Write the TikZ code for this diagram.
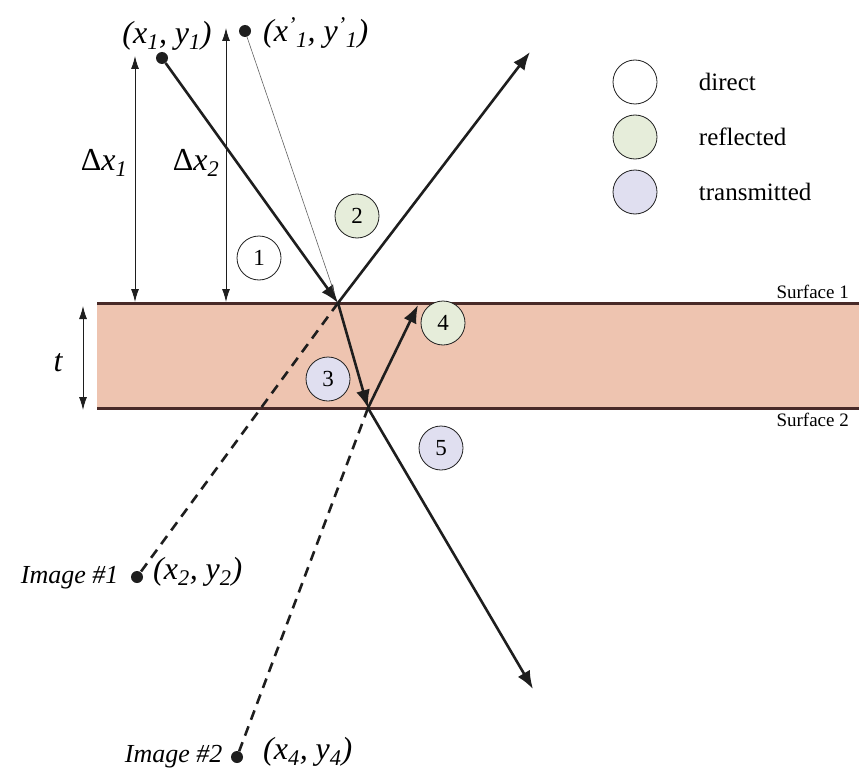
\documentclass[tikz,border=0pt]{standalone}
\usepackage{fontspec}
\setmainfont{Liberation Serif}
\usepackage{xcolor}
\usetikzlibrary{arrows.meta, positioning, calc}
\definecolor{slabFill}{RGB}{238,196,176}
\definecolor{slabEdge}{RGB}{72,42,40}
\definecolor{reflGreen}{RGB}{230,237,218}
\definecolor{transLav}{RGB}{224,223,240}
\definecolor{rayInk}{RGB}{30,30,30}

\tikzset{
  ray/.style={line width=2.6pt, rayInk, -{Latex[length=18pt, width=14pt]}},
  imageray/.style={line width=2.6pt, rayInk, dash pattern=on 10pt off 7pt},
  dimline/.style={line width=0.9pt, rayInk, {Latex[length=13pt, width=8pt]}-{Latex[length=13pt, width=8pt]}},
  srcdot/.style={circle, fill=rayInk, inner sep=0pt, minimum size=12pt},
  tag/.style={circle, draw=rayInk, line width=0.8pt, minimum size=44pt, inner sep=0pt, font=\fontsize{23}{23}\selectfont},
  mlabel/.style={font=\fontsize{32}{32}\selectfont\itshape, inner sep=1pt},
  legtext/.style={font=\fontsize{25}{25}\selectfont}
}

\begin{document}
\begin{tikzpicture}[x=1pt, y=-1pt]
  \useasboundingbox (0,0) rectangle (859,773);

  % the slab between the two surfaces
  \fill[slabFill] (97,303) rectangle (859,408);
  \draw[slabEdge, line width=3pt] (97,303) -- (859,303);
  \draw[slabEdge, line width=3pt] (97,408) -- (859,408);
  \node[anchor=south east, font=\fontsize{19}{19}\selectfont, inner sep=2pt] (surf1) at (851,301) {Surface 1};
  \node[anchor=north east, font=\fontsize{19}{19}\selectfont, inner sep=2pt] (surf2) at (851,411) {Surface 2};

  % points on the surfaces
  \coordinate (hit1) at (338,303);
  \coordinate (hit2) at (368,408);
  \coordinate (up4) at (418,305);
  \coordinate (outR) at (530,52);
  \coordinate (out5) at (533,689);
  \coordinate (thinEnd) at (334,292);

  % sources and images
  \node[srcdot] (src) at (162,58) {};
  \node[srcdot] (srcb) at (245,31) {};
  \node[srcdot] (img1) at (137,577) {};
  \node[srcdot] (img2) at (237,757) {};
  \node[mlabel] (srcLab) at (167,36) {(x\textsubscript{1}, y\textsubscript{1})};
  \node[mlabel, anchor=west] (srcbLab) at (262,33) {(x\textsuperscript{'}\textsubscript{1}, y\textsuperscript{'}\textsubscript{1})};
  \node[mlabel, anchor=west] (img1Lab) at (152,572) {(x\textsubscript{2}, y\textsubscript{2})};
  \node[mlabel, anchor=west] (img2Lab) at (262,752) {(x\textsubscript{4}, y\textsubscript{4})};
  \node[anchor=east, font=\fontsize{26}{26}\selectfont\itshape] (img1Txt) at (122,578) {Image \#1};
  \node[anchor=east, font=\fontsize{26}{26}\selectfont\itshape] (img2Txt) at (226,757) {Image \#2};

  % rays
  \draw[ray] (src) -- (hit1);
  \draw[line width=0.6pt, rayInk!70] (srcb) -- (thinEnd);
  \draw[ray] (hit1) -- (outR);
  \draw[ray] (hit1) -- (hit2);
  \draw[ray] (hit2) -- (up4);
  \draw[ray] (hit2) -- (out5);
  \draw[imageray] (hit1) -- (img1);
  \draw[imageray] (hit2) -- (img2);

  % distances
  \coordinate (d1top) at (135,56);
  \coordinate (d1bot) at (135,302);
  \coordinate (d2top) at (226,28);
  \coordinate (d2bot) at (226,302);
  \coordinate (ttop) at (83,306);
  \coordinate (tbot) at (83,410);
  \draw[dimline] (d1top) -- (d1bot);
  \draw[dimline] (d2top) -- (d2bot);
  \draw[dimline] (ttop) -- (tbot);
  \node[mlabel] (dx1) at (104,163) {\upshape Δ\itshape x\textsubscript{1}};
  \node[mlabel] (dx2) at (196,163) {\upshape Δ\itshape x\textsubscript{2}};
  \node[mlabel] (tLab) at (58,363) {t};

  % numbered paths
  \node[tag, fill=white] (n1) at (259,258) {1};
  \node[tag, fill=reflGreen] (n2) at (357,216) {2};
  \node[tag, fill=transLav] (n3) at (328,379) {3};
  \node[tag, fill=reflGreen] (n4) at (443,323) {4};
  \node[tag, fill=transLav] (n5) at (441,448) {5};

  % legend
  \node[tag, fill=white] (legD) at (635,82) {};
  \node[tag, fill=reflGreen] (legR) at (635,137) {};
  \node[tag, fill=transLav] (legT) at (635,192) {};
  \node[right=38pt of legD, legtext, anchor=west] (legDTxt) {direct};
  \node[right=38pt of legR, legtext, anchor=west] (legRTxt) {reflected};
  \node[right=38pt of legT, legtext, anchor=west] (legTTxt) {transmitted};
\end{tikzpicture}
\end{document}
